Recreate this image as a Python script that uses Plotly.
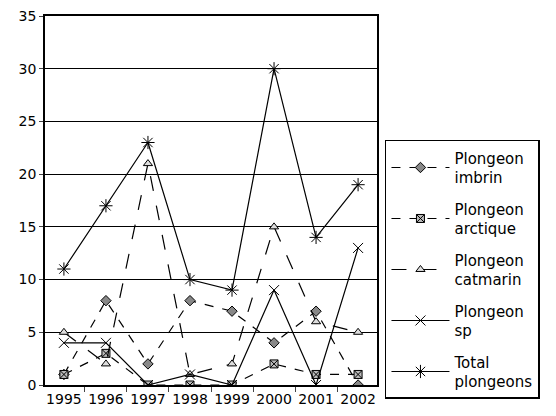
import plotly.graph_objects as go

years = ["1995", "1996", "1997", "1998", "1999", "2000", "2001", "2002"]
imbrin = [1, 8, 2, 8, 7, 4, 7, 0]
arctique = [1, 3, 0, 0, 0, 2, 1, 1]
catmarin = [5, 2, 21, 1, 2, 15, 6, 5]
sp = [4, 4, 0, 1, 0, 9, 0, 13]
total = [11, 17, 23, 10, 9, 30, 14, 19]

names = ["Plongeon<br>imbrin", "Plongeon<br>arctique", "Plongeon<br>catmarin",
         "Plongeon<br>sp", "Total<br>plongeons"]
series = [imbrin, arctique, catmarin, sp, total]
dashes = ["dash", "dash", "longdash", "solid", "solid"]
symbols = ["diamond", "square-x", "triangle-up", "x-thin", "asterisk"]
mcolors = ["#888888", "#bbbbbb", "#dddddd", "black", "black"]
msizes = [8, 8, 8, 10, 11]

fig = go.Figure()
for i, (n, s) in enumerate(zip(names, series)):
    fig.add_trace(go.Scatter(
        x=years, y=s, name=n, mode="lines+markers",
        legendgroup=str(i),
        line=dict(color="black", width=1.2, dash=dashes[i]),
        marker=dict(symbol=symbols[i], size=msizes[i], color=mcolors[i],
                    line=dict(color="black", width=1)),
    ))

fig.update_layout(
    width=556, height=416,
    margin=dict(l=37, r=187, t=8, b=39),
    paper_bgcolor="white", plot_bgcolor="white",
    font=dict(family="DejaVu Sans", color="black"),
    showlegend=True,
    legend=dict(
        x=1.024, y=0.664, xanchor="left", yanchor="top",
        bordercolor="black", borderwidth=1.5,
        font=dict(size=15, family="DejaVu Sans"),
        tracegroupgap=9,
        itemwidth=58,
    ),
)
fig.update_xaxes(
    type="category", tickson="boundaries", ticks="outside", ticklen=5,
    showline=True, linecolor="black", linewidth=1.5, mirror=True,
    showgrid=False, tickfont=dict(size=14), tickangle=0,
    range=[-0.45, 7.45], automargin=False,
)
fig.update_yaxes(
    range=[0, 35], dtick=5, ticks="outside", ticklen=4,
    showline=True, linecolor="black", linewidth=1.5, mirror=True,
    showgrid=True, gridcolor="black", gridwidth=1,
    tickfont=dict(size=14), zeroline=False,
    ticklabeloverflow="allow", automargin=False,
)
fig.write_html("out.html")
